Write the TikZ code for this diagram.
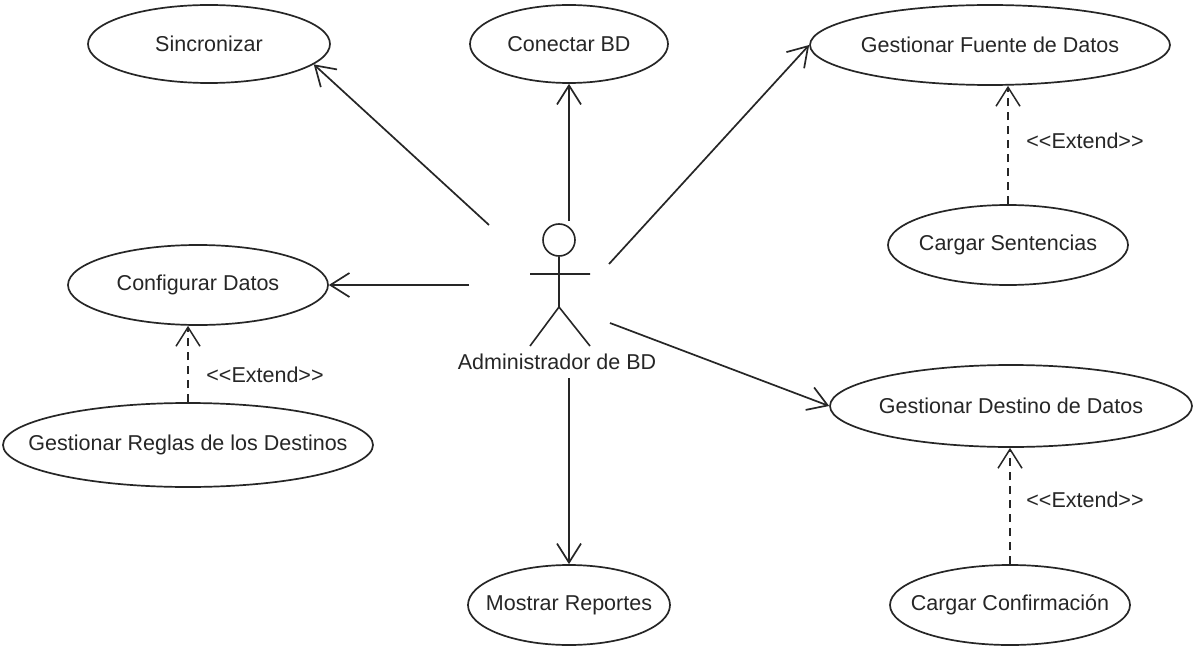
\documentclass[tikz,border=0pt]{standalone}
\usepackage{fontspec}
\setmainfont{Liberation Sans}
\usetikzlibrary{shapes.geometric,arrows.meta}
\newcommand{\uctext}[1]{\makebox[0pt]{#1}}
\begin{document}
\begin{tikzpicture}[x=1pt,y=-1pt,
  font=\fontsize{21.5}{25}\selectfont,
  usecase/.style={draw=black!85,line width=1.7pt,ellipse,inner sep=0pt,text=black!85},
  assoc/.style={draw=black!85,line width=1.7pt,-{Straight Barb[length=19pt,width=24pt,line width=1.7pt]}},
  extendrel/.style={draw=black!85,line width=1.5pt,dash pattern=on 8pt off 6pt,-{Straight Barb[length=19pt,width=24pt,line width=1.5pt]}},
  lbl/.style={text=black!85,inner sep=0pt}]
\useasboundingbox (0,0) rectangle (1193,647);
\fill[white] (0,0) rectangle (1193,647);

% use cases
\node[usecase,minimum width=242pt,minimum height=78pt] (sinc) at (209,44) {\uctext{Sincronizar}};
\node[usecase,minimum width=198pt,minimum height=78pt] (conectar) at (569,44) {\uctext{Conectar BD}};
\node[usecase,minimum width=360pt,minimum height=80pt] (fuente) at (990,45) {\uctext{Gestionar Fuente de Datos}};
\node[usecase,minimum width=240pt,minimum height=80pt] (sentencias) at (1008,245) {\uctext{Cargar Sentencias}};
\node[usecase,minimum width=260pt,minimum height=80pt] (configurar) at (198,285) {\uctext{Configurar Datos}};
\node[usecase,minimum width=370pt,minimum height=84pt] (reglas) at (188,445) {\uctext{Gestionar Reglas de los Destinos}};
\node[usecase,minimum width=362pt,minimum height=82pt] (destino) at (1011,406) {\uctext{Gestionar Destino de Datos}};
\node[usecase,minimum width=240pt,minimum height=80pt] (confirmacion) at (1010,605) {\uctext{Cargar Confirmación}};
\node[usecase,minimum width=202pt,minimum height=80pt] (reportes) at (569,605) {\uctext{Mostrar Reportes}};

% actor
\node[draw=black!85,line width=1.6pt,circle,minimum size=32pt,inner sep=0pt] (head) at (559,240) {};
\coordinate (hip) at (559,307);
\coordinate (armL) at (530,274);
\coordinate (armR) at (590,274);
\coordinate (footL) at (530,346);
\coordinate (footR) at (590,346);
\draw[black!85,line width=1.6pt] (head.south) -- (hip) (armL) -- (armR) (footL) -- (hip) -- (footR);
\node[lbl] (actor) at (557,362) {Administrador de BD};

% free ends of the associations around the actor
\coordinate (a1) at (489,225);
\coordinate (a2) at (569,221);
\coordinate (a3) at (609,264);
\coordinate (a4) at (469,285);
\coordinate (a5) at (610,323);
\coordinate (a6) at (569,378);

% associations
\draw[assoc] (a1) -- (sinc.-11.7);
\draw[assoc] (a2) -- (conectar.south);
\draw[assoc] (a3) -- (fuente.west);
\draw[assoc] (a4) -- (configurar.east);
\draw[assoc] (a5) -- (destino.west);
\draw[assoc] (a6) -- (reportes.north);

% extend relations (vertical, from the extending case up to its base)
\draw[extendrel] (sentencias.north) -- (fuente.south -| sentencias.north);
\draw[extendrel] (reglas.north) -- (configurar.south -| reglas.north);
\draw[extendrel] (confirmacion.north) -- (destino.south -| confirmacion.north);
\node[lbl] (ext1) at (1085,141) {<{}<Extend>{}>};
\node[lbl] (ext2) at (265,375) {<{}<Extend>{}>};
\node[lbl] (ext3) at (1085,500) {<{}<Extend>{}>};
\end{tikzpicture}
\end{document}
